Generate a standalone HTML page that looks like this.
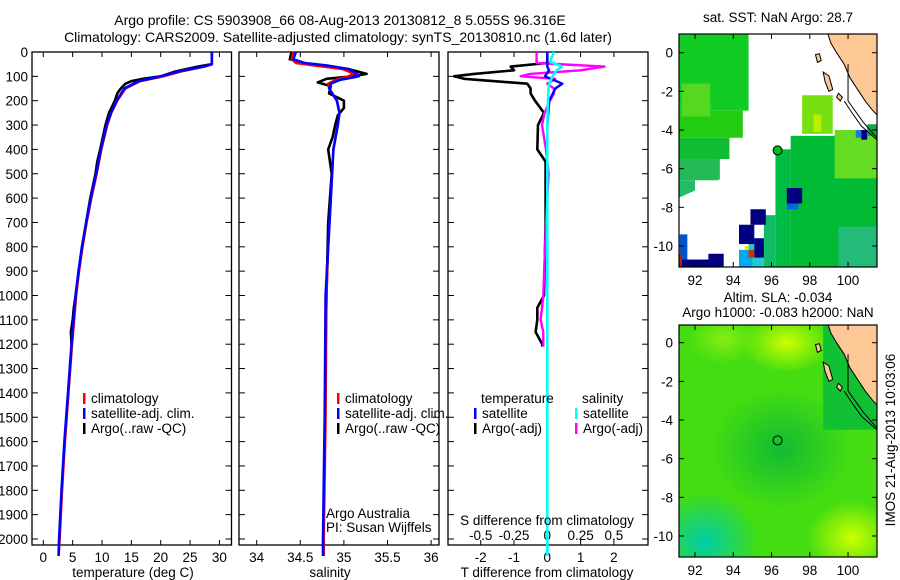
<!DOCTYPE html>
<html><head><meta charset="utf-8"><style>
body{margin:0;background:#fff;}
svg{display:block;font-family:"Liberation Sans",sans-serif;}
text{font-size:13.5px;fill:#000;}
text.t{font-size:14px;}
</style></head><body>
<svg id="fig" width="900" height="580" viewBox="0 0 900 580" xmlns="http://www.w3.org/2000/svg">
<defs>
<clipPath id="c1"><rect x="679" y="34" width="198" height="233"/></clipPath>
<clipPath id="c2"><rect x="679" y="325" width="198" height="232"/></clipPath>
</defs>
<text class="t" x="340" y="25" text-anchor="middle">Argo profile: CS 5903908_66 08-Aug-2013 20130812_8 5.055S 96.316E</text>
<text class="t" x="338" y="42" text-anchor="middle">Climatology: CARS2009. Satellite-adjusted climatology: synTS_20130810.nc (1.6d later)</text>
<g id="m1"><g id="m1c" clip-path="url(#c1)"></g></g>
<g id="m2"><g id="m2c" clip-path="url(#c2)"></g></g>
<g id="p1"></g>
<g id="p2"></g>
<g id="p3"></g>
<text x="778" y="22" text-anchor="middle">sat. SST: NaN Argo: 28.7</text>
<text x="778" y="302" text-anchor="middle">Altim. SLA: -0.034</text>
<text x="778" y="317" text-anchor="middle">Argo h1000: -0.083 h2000: NaN</text>
<text transform="translate(895,440) rotate(-90)" text-anchor="middle">IMOS 21-Aug-2013 10:03:06</text>
</svg>
<script>
// ---- data ----
const depthTicks=[0,100,200,300,400,500,600,700,800,900,1000,1100,1200,1300,1400,1500,1600,1700,1800,1900,2000];
const tempTicks=[0,5,10,15,20,25,30];
const salTicks=[34,34.5,35,35.5,36];
const tdTicks=[-2,-1,0,1,2];
const sdTicks=[-0.5,-0.25,0,0.25,0.5];
const sdTickLabels=["-0.5","-0.25","0","0.25","0.5"];
const tDepth=[0,50,60,80,100,120,150,200,250,300,400,500,600,700,800,900,1000,1200,1400,1600,1800,2000,2070];
const tClim=[28.7,28.7,27.5,23.5,20.5,16.5,14,12.6,11.6,10.9,9.9,9.1,8.2,7.4,6.7,6.1,5.6,4.9,4.3,3.7,3.2,2.8,2.6];
const tSat=[28.7,28.7,27.3,23,20,16.2,13.8,12.5,11.5,10.8,9.8,9.0,8.1,7.3,6.6,6.0,5.5,4.8,4.2,3.6,3.1,2.7,2.6];
const argoTDepth=[0,50,60,80,100,110,120,130,150,170,200,250,300,400,450,500,600,800,1000,1050,1100,1150,1200,1210];
const tArgo=[28.7,28.7,26.3,22.5,20,17,15,14,13.2,12.6,12.2,11.2,10.6,9.7,9.2,8.9,8.0,6.6,5.5,5.2,5.0,4.7,4.8,4.8];
const sDepth=[0,30,45,55,70,90,100,115,130,150,200,250,300,400,600,800,1000,1500,2000,2070];
const sClim=[34.42,34.4,34.45,34.65,34.98,35.12,35.05,34.9,34.82,34.83,34.92,34.95,34.93,34.88,34.85,34.82,34.8,34.79,34.77,34.77];
const sSat=[34.45,34.42,34.55,34.8,35.05,35.15,35.17,34.95,34.85,34.83,34.92,34.95,34.93,34.88,34.85,34.82,34.79,34.78,34.76,34.76];
const argoSDepth=[0,30,50,70,90,100,110,125,140,170,200,230,260,300,350,400,500,700,1000,1200,1210];
const sArgo=[34.4,34.38,34.6,35.05,35.26,35.1,34.8,34.7,34.85,34.83,35.0,35.0,34.93,34.9,34.87,34.82,34.86,34.82,34.8,34.79,34.79];
const dDepthA=[0,45,60,75,90,100,110,130,150,170,200,250,300,400,450,500,700,1000,1050,1100,1150,1200,1210];
const tdArgo=[0,0,-1.1,-1.0,-2.2,-2.8,-2.5,-0.6,-0.5,-0.5,-0.37,-0.1,-0.28,-0.3,-0.05,-0.05,-0.05,-0.1,-0.3,-0.3,-0.35,-0.15,-0.15];
const sdArgo=[-0.08,-0.08,0.43,0.25,-0.13,-0.2,0.06,0,0.05,0.05,0.02,-0.02,-0.04,-0.01,0,0.01,-0.01,-0.03,-0.04,-0.05,-0.03,-0.03,-0.03];
const dDepthS=[0,40,60,75,100,130,150,200,300,1000,2070];
const tdSat=[0,0,0,0.05,-0.07,0.45,0.24,0.06,0,0,0];
const sdSat=[0.05,0.02,0.11,0.07,0.04,0.015,0.01,0.005,0,0,0];
// ---- helpers ----
const NS="http://www.w3.org/2000/svg";
function mk(tag,attrs,parent){const e=document.createElementNS(NS,tag);for(const k in attrs)e.setAttribute(k,attrs[k]);parent.appendChild(e);return e;}
const yTop=52,yBot=545;
const yD=d=>yTop+d*0.2435;
function frame(g,x0,x1){
  const r=mk('rect',{x:x0,y:yTop,width:x1-x0,height:yBot-yTop,fill:'none',stroke:'#000','stroke-width':1.3},g);
  
  
  depthTicks.forEach(d=>{mk('line',{x1:x0,x2:x0+6,y1:yD(d),y2:yD(d),stroke:'#000'},g);mk('line',{x1:x1,x2:x1-6,y1:yD(d),y2:yD(d),stroke:'#000'},g);});
}
function xticks(g,vals,labels,sx,y,topTicks){
  vals.forEach((v,i)=>{const x=sx(v);
    if(topTicks){mk('line',{x1:x,x2:x,y1:yTop,y2:yTop+5,stroke:'#000'},g);mk('line',{x1:x,x2:x,y1:yBot,y2:yBot-5,stroke:'#000'},g);}
    const t=mk('text',{x:x,y:y,'text-anchor':'middle'},g);t.textContent=labels[i];
    
    
  });
}
function line(g,xs,ds,sx,col,w,name){
  const p=xs.map((v,i)=>sx(v).toFixed(1)+','+yD(ds[i]).toFixed(1)).join(' ');
  const e=mk('polyline',{points:p,fill:'none',stroke:col,'stroke-width':w,'stroke-linejoin':'round'},g);
  
  
}
function legend(g,x,y,col,label){
  mk('rect',{x:x,y:y-10,width:2.5,height:11,fill:col},g);
  const t=mk('text',{x:x+8,y:y},g);t.textContent=label;
  
  
}
// ---- panel 1 ----
const p1=document.getElementById('p1');
const xT=t=>43.3+t*5.87;
frame(p1,32,231.5);
depthTicks.forEach(d=>{const t=mk('text',{x:28,y:yD(d)+5,'text-anchor':'end'},p1);t.textContent=d;
  
  });
xticks(p1,tempTicks,tempTicks.map(String),xT,562,true);
line(p1,tArgo,argoTDepth,xT,'#000',2.6,'temperature-argo-line');
line(p1,tClim,tDepth,xT,'#f00',2.4,'temperature-climatology-line');
line(p1,tSat,tDepth,xT,'#00f',2.6,'temperature-satellite-line');
legend(p1,83,403,'#f00','climatology');legend(p1,83,418,'#00f','satellite-adj. clim.');legend(p1,83,433,'#000','Argo(..raw -QC)');
{const t=mk('text',{x:133,y:577,'text-anchor':'middle'},p1);t.textContent='temperature (deg C)';}
// ---- panel 2 ----
const p2=document.getElementById('p2');
const xS=s=>256.7+(s-34)*87.2;
frame(p2,239,439);
xticks(p2,salTicks,salTicks.map(String),xS,562,true);
line(p2,sArgo,argoSDepth,xS,'#000',2.6,'salinity-argo-line');
line(p2,sClim,sDepth,xS,'#f00',2.4,'salinity-climatology-line');
line(p2,sSat,sDepth,xS,'#00f',2.6,'salinity-satellite-line');
legend(p2,337,403,'#f00','climatology');legend(p2,337,418,'#00f','satellite-adj. clim.');legend(p2,337,433,'#000','Argo(..raw -QC)');
{const t=mk('text',{x:326,y:518},p2);t.textContent='Argo Australia';}
{const t=mk('text',{x:326,y:532},p2);t.textContent='PI: Susan Wijffels';}
{const t=mk('text',{x:330,y:577,'text-anchor':'middle'},p2);t.textContent='salinity';}
// ---- panel 3 ----
const p3=document.getElementById('p3');
const xTd=v=>547.3+v*33.3, xSd=v=>547.3+v*133.2;
frame(p3,448,648);
xticks(p3,tdTicks,tdTicks.map(String),xTd,562,true);
xticks(p3,sdTicks,sdTickLabels,xSd,540,false);
line(p3,tdArgo,dDepthA,xTd,'#000',2.6,'t-diff-argo-line');
line(p3,sdArgo,dDepthA,xSd,'#f0f',2.4,'s-diff-argo-line');
line(p3,tdSat,dDepthS,xTd,'#00f',2.4,'t-diff-satellite-line');
line(p3,sdSat,dDepthS,xSd,'#0ff',2.6,'s-diff-satellite-line');
{const t=mk('text',{x:481,y:403},p3);t.textContent='temperature';}
{const t=mk('text',{x:582,y:403},p3);t.textContent='salinity';}
legend(p3,474,418,'#00f','satellite');legend(p3,474,433,'#000','Argo(-adj)');
legend(p3,575,418,'#0ff','satellite');legend(p3,575,433,'#f0f','Argo(-adj)');
{const t=mk('text',{x:547,y:525,'text-anchor':'middle'},p3);t.textContent='S difference from climatology';}
{const t=mk('text',{x:547,y:577,'text-anchor':'middle'},p3);t.textContent='T difference from climatology';}
// ---- maps ----
function mapFrame(g,y0,y1,lat0y){
  const L=679,R=877;
  const mx=lon=>695+(lon-92)*19.13, my=lat=>lat0y-lat*19.33;
  return {L,R,mx,my,y0,y1,finish(){
    const r=mk('rect',{x:L,y:y0,width:R-L,height:y1-y0,fill:'none',stroke:'#000','stroke-width':1.2},g);
    
    [92,94,96,98,100].forEach(lon=>{const x=mx(lon);mk('line',{x1:x,x2:x,y1:y0,y2:y0+5,stroke:'#000'},g);mk('line',{x1:x,x2:x,y1:y1,y2:y1-5,stroke:'#000'},g);
      const t=mk('text',{x:x,y:y1+18,'text-anchor':'middle'},g);t.textContent=lon;});
    [0,-2,-4,-6,-8,-10].forEach(lat=>{const y=my(lat);mk('line',{x1:L,x2:L+5,y1:y,y2:y,stroke:'#000'},g);mk('line',{x1:R,x2:R-5,y1:y,y2:y,stroke:'#000'},g);
      const t=mk('text',{x:L-6,y:y+5,'text-anchor':'end'},g);t.textContent=lat;});
  }};
}
function land(g,m){
  const pts=[[98.9,1.1],[99.1,0.5],[99.4,0.0],[99.8,-0.6],[100.1,-1.3],[100.5,-1.9],[100.9,-2.5],[101.3,-3.0],[101.6,-3.3],[101.6,1.1]];
  const e=mk('polygon',{points:pts.map(p=>m.mx(p[0])+','+m.my(p[1])).join(' '),fill:'#fdc896',stroke:'#000','stroke-width':1},g);
  
  const isl=[[98.7,-1.0],[99.0,-1.2],[99.2,-1.9],[99.0,-2.0],[98.8,-1.5]];
  mk('polygon',{points:isl.map(p=>m.mx(p[0])+','+m.my(p[1])).join(' '),fill:'#fdc896',stroke:'#000'},g);
  mk('polygon',{points:[[99.5,-2.1],[99.7,-2.3],[99.6,-2.5],[99.4,-2.3]].map(p=>m.mx(p[0])+','+m.my(p[1])).join(' '),fill:'#fdc896',stroke:'#000'},g);
  mk('polygon',{points:[[98.3,-0.1],[98.5,-0.05],[98.6,-0.4],[98.4,-0.5]].map(p=>m.mx(p[0])+','+m.my(p[1])).join(' '),fill:'#fdc896',stroke:'#000'},g);
  mk('polyline',{points:[[99.8,-2.5],[100.2,-3.1],[100.7,-3.8],[101.5,-4.5]].map(p=>m.mx(p[0])+','+m.my(p[1])).join(' '),fill:'none',stroke:'#000'},g);
  mk('polyline',{points:[[100.0,-0.6],[100.0,-2.5],[100.8,-3.6],[101.5,-4.4]].map(p=>m.mx(p[0])+','+m.my(p[1])).join(' '),fill:'none',stroke:'#000'},g);
}
// SST map
const g1=document.getElementById('m1c');
const m1=mapFrame(document.getElementById('m1'),34,267,52.7);
function cell(g,m,c){const r=mk('rect',{x:m.mx(c[0]),y:m.my(c[1]),width:m.mx(c[2])-m.mx(c[0]),height:m.my(c[3])-m.my(c[1]),fill:c[4]},g);
  }
const cellsA=[
 [91.16,1,94.8,-3,'#11cc22'],[91.16,-3,94.5,-4.4,'#22cc11'],[91.16,-4.4,93.8,-5.5,'#11bb33'],[91.16,-5.5,93.3,-6.6,'#22bb55'],[91.16,-6.6,92.0,-7.5,'#22bb66'],
 [91.3,-1.6,92.8,-3.3,'#55d822'],[97.6,-2.2,99.2,-4.2,'#77e011'],[98.2,-3.2,98.6,-4.1,'#bbee00'],
 [97.0,-4.3,101.5,-11.1,'#00bb33'],[96.2,-5.0,97.0,-11.1,'#00bb44'],[95.6,-8.4,96.2,-11.1,'#11bb66'],[94.8,-9.6,95.6,-11.1,'#22cccc'],
 [99.3,-4.0,101.5,-6.5,'#66dd22'],[99.5,-9,101.5,-11.1,'#22bb77']];
cellsA.forEach(c=>cell(g1,m1,c));
mk('polygon',{points:[[91.16,-7.5],[93.2,-6.6],[96.2,-5.0],[96.2,-8.4],[95.6,-8.4],[94.8,-9.6],[94.3,-10.2],[91.16,-10.2]].map(p=>m1.mx(p[0])+','+m1.my(p[1])).join(' '),fill:'#fff'},g1);
const cellsB=[
 [96.8,-7.0,97.6,-7.8,'#000080'],[96.8,-7.8,97.4,-8.1,'#0066dd'],[94.9,-8.1,95.7,-8.9,'#000080'],[94.3,-8.9,95.1,-9.9,'#000080'],[95.1,-9.6,95.6,-10.6,'#000080'],
 [91.2,-9.4,91.6,-10.7,'#0055cc'],[91.3,-10.7,93.5,-11.1,'#000080'],[92.7,-10.4,93.5,-10.7,'#000080'],[91.16,-10.4,91.3,-11.1,'#bb2200'],
 [94.3,-10.2,95.0,-11.1,'#00aaee'],[94.8,-10.2,95.1,-10.6,'#cc3300'],[94.6,-10.0,94.8,-10.2,'#ffdd00'],
 [100.4,-4.0,100.7,-4.4,'#2277dd'],[100.7,-4.0,101.0,-4.5,'#000080'],[101.0,-3.7,101.5,-4.3,'#11aa44']];
cellsB.forEach(c=>cell(g1,m1,c));
land(g1,m1);
{const c=mk('circle',{cx:m1.mx(96.316),cy:m1.my(-5.055),r:4.5,fill:'#00bb22',stroke:'#000','stroke-width':1},g1);}
m1.finish();
// SLA map
const g2=document.getElementById('m2c');
const m2=mapFrame(document.getElementById('m2'),325,557,342.7);
const defs=mk('defs',{},g2);
function rg(id,col){const r=mk('radialGradient',{id:id},defs);mk('stop',{offset:'0','stop-color':col,'stop-opacity':1},r);mk('stop',{offset:'1','stop-color':col,'stop-opacity':0},r);}
rg('gy','#ccff00');rg('gc','#00ccaa');rg('gd','#11bb33');rg('gl','#88ee11');
{const r=mk('rect',{x:679,y:325,width:198,height:232,fill:'#44dd11'},g2);}
mk('ellipse',{cx:m2.mx(96.8),cy:m2.my(0),rx:45,ry:30,fill:'url(#gy)'},g2);
mk('ellipse',{cx:m2.mx(93.5),cy:m2.my(0.2),rx:35,ry:25,fill:'url(#gl)'},g2);
mk('ellipse',{cx:m2.mx(96.5),cy:m2.my(-5.5),rx:70,ry:60,fill:'url(#gd)'},g2);
mk('ellipse',{cx:m2.mx(92.5),cy:m2.my(-10.3),rx:55,ry:50,fill:'url(#gc)'},g2);
mk('ellipse',{cx:m2.mx(100.2),cy:m2.my(-10.1),rx:45,ry:38,fill:'url(#gy)'},g2);
mk('rect',{x:m2.mx(98.7),y:325,width:m2.mx(101.5)-m2.mx(98.7),height:m2.my(-4.5)-325,fill:'#11c033'},g2);
land(g2,m2);
{const c=mk('circle',{cx:m2.mx(96.316),cy:m2.my(-5.055),r:4.5,fill:'none',stroke:'#000','stroke-width':1},g2);}
m2.finish();
</script>
</body></html>
